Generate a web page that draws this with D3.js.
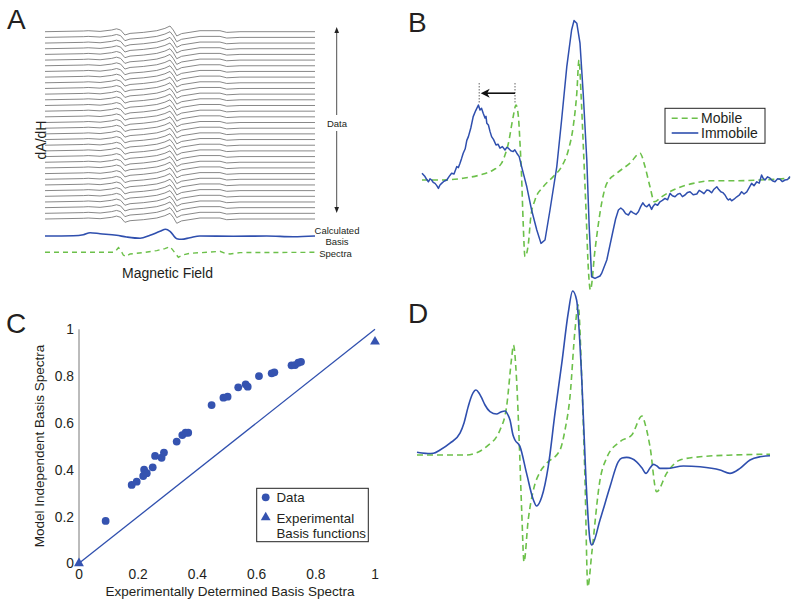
<!DOCTYPE html>
<html><head><meta charset="utf-8">
<script src="https://cdn.jsdelivr.net/npm/d3@7"></script>
<style>
body{margin:0;background:#fff}
svg{display:block}
text{font-family:"Liberation Sans",Arial,Helvetica,sans-serif;fill:#231f20}
</style>
</head><body><svg id="c" width="800" height="605"></svg>
<script>
// ---------------- DATA ----------------
// Panel A: field (0-100, arb.) , amplitude (arb.)
const dataTraceA = [[0,0],[14.2,0.7],[16,1],[20.4,0.3],[24.7,1.7],[26.5,2.9],[28,1.7],[29.6,-3.3],[31.5,-1.7],[36.4,-0.7],[41.4,1],[44.4,3.3],[46.3,5.7],[47.5,1.7],[48.8,-4.3],[50.6,-1.9],[57.4,1],[64.8,1],[67.3,-0.7],[72.2,0],[100,0]];
const dataTraceIdsA = d3.range(1, 35);   // 34 measured spectra
const immobileBasisA = [[0,0],[10.5,0.3],[14.2,1.3],[16.7,3.3],[20.4,2.3],[26.5,0.7],[30.2,-1],[35.2,-2.3],[38.9,0.7],[42.6,4.7],[44.7,6.7],[46.3,4.7],[48.8,-2.7],[50.6,-3.3],[53.7,-1.7],[57.4,0],[69.8,-0.3],[82.1,0],[92,-0.7],[100,0]];
const mobileBasisA = [[0,0],[25.3,0],[26.3,1.7],[27.2,4.7],[28,2.3],[29,-2.7],[30,-4.3],[31.5,-1.7],[36.4,-0.3],[41.4,1.7],[44.4,3.7],[46.3,5.7],[47.5,1.7],[49.4,-5],[51,-2.7],[53.7,-1],[59.9,0],[64.8,1],[66.7,-1],[68.5,-1.7],[72.2,-0.3],[100,0]];

// Panel B: field (G), amplitude (arb.)
const immobileB = [[0,3.4],[0.4,2.5],[0.75,1.7],[1.1,0.5],[1.6,-0.9],[2,0.6],[2.4,0],[2.8,-1.2],[3.25,-1.7],[3.7,-2.8],[4.1,-4.2],[4.5,-2.5],[4.9,-1.7],[5.5,-0.6],[6.2,0],[6.8,1.8],[7.4,3.4],[8,3],[8.7,6.7],[9.1,6.2],[9.5,8.4],[9.9,10.8],[10.3,13.4],[10.8,15.6],[11.2,19.8],[11.6,21.7],[12.2,26],[12.8,31.7],[13.4,34.6],[14.1,37.5],[14.5,35],[14.9,35.8],[15.3,33.4],[15.75,31],[16,31.8],[16.2,28.4],[16.6,27.5],[17,24.3],[17.4,21.7],[17.9,20.2],[18.5,17.5],[19,17.9],[19.5,15.9],[20.1,16.7],[20.75,15],[21.2,16.3],[21.6,15.9],[22.2,14.6],[22.8,14.2],[23.2,15.1],[23.7,13.4],[24.3,11.7],[24.9,6.7],[26.2,-3.4],[27.4,-15],[28.7,-25],[29.75,-31.7],[30.75,-30],[32,-15],[33.7,6.7],[34.9,30],[36.2,56.7],[37.4,75],[38,79.7],[38.7,78.4],[39.5,68.4],[40.3,43.4],[41.2,10],[41.8,-23.4],[42.4,-48.4],[43.25,-49.2],[44.5,-48],[44.9,-46.7],[46.2,-40],[47.8,-25],[48.4,-19.5],[49.1,-15],[49.7,-14],[50.3,-15],[50.9,-16.8],[51.6,-17.5],[52.2,-15.6],[52.8,-16.4],[53.5,-17.2],[54.1,-15.9],[54.7,-13.2],[55.2,-11.4],[55.7,-12.8],[56.2,-13.4],[56.8,-12.2],[57.4,-14.7],[57.8,-13.1],[58.25,-12],[58.9,-12.6],[59.5,-10.9],[60.1,-10.2],[60.75,-9.2],[61.4,-9.9],[62,-6.7],[62.6,-7.9],[63.25,-8.4],[63.9,-7.1],[64.5,-6.7],[65.1,-8.3],[65.75,-7.5],[66.4,-6.2],[67,-5.9],[67.8,-7.4],[68.7,-7],[69.3,-5.2],[69.9,-5.9],[70.5,-6.8],[71.2,-5],[71.8,-5.3],[72.4,-6.4],[73,-4.6],[73.7,-3.4],[74.2,-4.8],[74.7,-5.9],[75.2,-6.3],[75.75,-7.5],[76.2,-9.1],[76.6,-10],[77,-9.4],[77.4,-10.4],[78,-9.6],[78.7,-8.4],[79.3,-7.6],[79.9,-5.9],[80.5,-7],[81.2,-5.9],[81.8,-3.8],[82.4,-1.7],[83,-2.9],[83.7,-0.9],[84.3,-1.6],[84.9,2.5],[85.3,0.8],[85.75,0],[86.4,1.6],[87,0.9],[87.6,-0.4],[88.25,-0.9],[88.9,0.6],[89.5,0.4],[90.1,-0.8],[90.75,0],[91.4,0.3],[92,1.7]];
const mobileB = [[0,0],[5.3,0],[10.3,0.9],[14.5,2.5],[17.8,5],[19.9,8.4],[20.75,12.5],[21.6,18.4],[22.8,31.7],[23.5,37.5],[24.1,31.7],[24.5,18.4],[24.9,1.7],[25.3,-21.7],[25.75,-38.4],[26.6,-31.7],[27.2,-18.4],[28.25,-10],[30.3,-3.4],[32.8,1.7],[34.9,6.7],[36.6,15],[37.8,26.7],[38.7,43.4],[39.25,60],[39.75,43.4],[40.3,18.4],[41,-15],[41.6,-45],[42.1,-55],[43.25,-35],[44.9,-11.7],[46.2,-1.7],[48.7,3.4],[52,8.4],[54.5,13.4],[55.75,6.7],[57,-3.4],[58.1,-10.9],[59.9,-8.4],[62.8,-5],[67.8,-1.7],[72,-0.4],[77.8,-0.4],[84.5,0],[92,0.9]];
const peakShiftB = [23.25, 14.3];   // mobile peak -> immobile peak (G)

// Panel D: field (G), amplitude (arb.)
const immobileD = [[0,1.4],[1.25,1],[2.75,0.75],[4.1,0.9],[5.75,2.5],[8.25,5.9],[10.75,10.9],[11.75,16],[12.8,24.2],[13.75,30],[14.75,32.5],[15.5,31],[16.2,28.4],[17,25],[18.25,21.7],[19.9,20.5],[21,21.5],[22,22],[22.75,20],[23.25,17.5],[24,10],[24.5,7.5],[25.75,4.2],[27.4,-9.2],[29.1,-22.5],[29.9,-25.5],[31.2,-20.9],[32.8,-5.9],[34.5,20.9],[36.2,45.9],[37.8,70.9],[38.9,82],[39.9,77.5],[41.2,37.5],[42.25,-12.5],[43.25,-42.5],[43.7,-45],[45.75,-32.5],[48.25,-15.9],[50.3,-3.4],[51.25,-1.5],[52.4,-1.2],[54.9,-3.4],[56.25,-6.5],[57.25,-9.2],[58.25,-6.5],[59.1,-4.7],[60,-5.5],[60.75,-6.7],[62.4,-6.7],[66.6,-5.5],[70.75,-5.9],[75.75,-7.5],[78.25,-9.2],[80.75,-6.7],[83.25,-2.5],[85.75,-0.9],[88.25,-0.4]];
const mobileD = [[0,0],[12.4,0],[14.75,1],[17.4,4.2],[20.75,12.5],[22.4,24.2],[23.7,49.2],[24.1,55],[24.9,37.5],[25.6,4.2],[26.2,-29.2],[26.75,-53.4],[27.8,-32.5],[29.1,-17.5],[30.75,-8.5],[32.4,-4.2],[35.75,2.5],[37,12.5],[38.25,29.2],[39.5,62.5],[40.3,75],[41.2,37.5],[42,-12.5],[42.7,-65.9],[43.7,-49],[45.75,-12.5],[47.4,-1.5],[50.75,6.7],[53.7,10],[56.25,19.5],[57.1,15],[58.25,4.2],[59.9,-18.4],[62.4,-9.2],[65.75,-2.5],[70.75,-0.9],[79.1,0],[88.25,0.4]];

// Panel C
const expBasis = [0.09,0.178,0.195,0.217,0.22,0.229,0.249,0.257,0.279,0.287,0.33,0.349,0.36,0.369,0.448,0.488,0.502,0.538,0.563,0.57,0.608,0.651,0.66,0.718,0.73,0.741,0.75];
const modelBasis = [0.181,0.335,0.349,0.373,0.40,0.385,0.41,0.459,0.451,0.473,0.52,0.548,0.558,0.558,0.676,0.708,0.712,0.752,0.765,0.755,0.80,0.812,0.816,0.846,0.847,0.857,0.861];
const expFunctionsX = [0, 1];
const expFunctionsY = [0, 0.947];
const ticksC = [0, 0.2, 0.4, 0.6, 0.8, 1];

// ---------------- DRAW ----------------
const BLUE = "#2f4fae", GREEN = "#6cc04a", GRAY = "#7a7a7a";
const svg = d3.select("#c");
svg.append("rect").attr("width",800).attr("height",605).attr("fill","#fff");

function panelLabel(t, x, y){
  svg.append("text").attr("x",x).attr("y",y).attr("font-size",28).text(t);
}
panelLabel("A", 7, 29); panelLabel("B", 408, 32); panelLabel("C", 6, 333); panelLabel("D", 408, 323);

// ---- Panel A ----
const xA = d3.scaleLinear([0,100],[45,315]);
const rowA = d3.scaleLinear([1,34],[31.7,219]);
const ampA = d3.scaleLinear([-10,10],[10,-10]);
const gA = svg.append("g");
gA.selectAll("path.trace").data(dataTraceIdsA).join("path")
  .attr("fill","none").attr("stroke",GRAY).attr("stroke-width",0.9)
  .attr("d", id => d3.line().x(d=>xA(d[0])).y(d=>rowA(id)+ampA(d[1]))(dataTraceA));
gA.append("path").attr("fill","none").attr("stroke",BLUE).attr("stroke-width",1.6)
  .attr("d", d3.line().curve(d3.curveMonotoneX).x(d=>xA(d[0])).y(d=>236+ampA(d[1]))(immobileBasisA));
gA.append("path").attr("fill","none").attr("stroke",GREEN).attr("stroke-width",1.4).attr("stroke-dasharray","5,4")
  .attr("d", d3.line().x(d=>xA(d[0])).y(d=>252.3+ampA(d[1]))(mobileBasisA));
// double arrow
gA.append("line").attr("x1",336.7).attr("x2",336.7).attr("y1",31).attr("y2",115).attr("stroke","#222").attr("stroke-width",0.8);
gA.append("line").attr("x1",336.7).attr("x2",336.7).attr("y1",131).attr("y2",209).attr("stroke","#222").attr("stroke-width",0.8);
gA.append("path").attr("d","M336.7,27 L334.4,33 L339,33 Z").attr("fill","#222");
gA.append("path").attr("d","M336.7,213 L334.4,207 L339,207 Z").attr("fill","#222");
gA.append("text").attr("x",337).attr("y",126.5).attr("text-anchor","middle").attr("font-size",9.5).text("Data");
gA.append("text").attr("x",337).attr("y",233.5).attr("text-anchor","middle").attr("font-size",9.5).text("Calculated");
gA.append("text").attr("x",337).attr("y",245).attr("text-anchor","middle").attr("font-size",9.5).text("Basis");
gA.append("text").attr("x",335.5).attr("y",256.5).attr("text-anchor","middle").attr("font-size",9.5).text("Spectra");
gA.append("text").attr("x",167.5).attr("y",278).attr("text-anchor","middle").attr("font-size",14).text("Magnetic Field");
gA.append("text").attr("transform","translate(46,140) rotate(-90)").attr("text-anchor","middle").attr("font-size",14).text("dA/dH");

// ---- Panel B ----
const xB = d3.scaleLinear([0,92],[422,790]);
const yB = d3.scaleLinear([-64,80],[308,20]);
const lineB = d3.line().x(d=>xB(d[0])).y(d=>yB(d[1]));
const lineBs = d3.line().curve(d3.curveMonotoneX).x(d=>xB(d[0])).y(d=>yB(d[1]));
svg.append("path").attr("fill","none").attr("stroke",GREEN).attr("stroke-width",1.6).attr("stroke-dasharray","6,4")
  .attr("d", lineBs(mobileB));
svg.append("path").attr("fill","none").attr("stroke",BLUE).attr("stroke-width",1.5).attr("stroke-linejoin","round")
  .attr("d", lineB(immobileB));
peakShiftB.forEach(g=>{
  svg.append("line").attr("x1",xB(g)).attr("x2",xB(g)).attr("y1",yB(48.5)).attr("y2",yB(38.5))
    .attr("stroke","#666").attr("stroke-width",1).attr("stroke-dasharray","1.5,1.5");
});
svg.append("line").attr("x1",xB(peakShiftB[0])).attr("x2",xB(peakShiftB[1])+6).attr("y1",yB(43.4)).attr("y2",yB(43.4))
  .attr("stroke","#111").attr("stroke-width",1.6);
svg.append("path").attr("d",`M${xB(peakShiftB[1])+1.5},${yB(43.4)} l9,-4.5 l-2.5,4.5 l2.5,4.5 Z`).attr("fill","#111");
// legend B
const lgB = svg.append("g");
lgB.append("rect").attr("x",665).attr("y",108.3).attr("width",100).attr("height",35).attr("fill","#fff").attr("stroke","#222").attr("stroke-width",1);
lgB.append("line").attr("x1",671.7).attr("x2",698.3).attr("y1",118.3).attr("y2",118.3).attr("stroke",GREEN).attr("stroke-width",1.6).attr("stroke-dasharray","6,4");
lgB.append("line").attr("x1",671.7).attr("x2",698.3).attr("y1",133).attr("y2",133).attr("stroke",BLUE).attr("stroke-width",1.6);
lgB.append("text").attr("x",701).attr("y",123.3).attr("font-size",14).text("Mobile");
lgB.append("text").attr("x",701).attr("y",138).attr("font-size",14).text("Immobile");

// ---- Panel D ----
const xD = d3.scaleLinear([0,88.25],[417,770]);
const yD = d3.scaleLinear([-64,80],[583,295]);
const lineD = d3.line().curve(d3.curveMonotoneX).x(d=>xD(d[0])).y(d=>yD(d[1]));
svg.append("path").attr("fill","none").attr("stroke",GREEN).attr("stroke-width",1.6).attr("stroke-dasharray","6,4")
  .attr("d", lineD(mobileD));
svg.append("path").attr("fill","none").attr("stroke",BLUE).attr("stroke-width",1.6).attr("stroke-linejoin","round")
  .attr("d", lineD(immobileD));

// ---- Panel C ----
const xC = d3.scaleLinear([0,1],[79,375]);
const yC = d3.scaleLinear([0,1],[563.3,329.3]);
const gC = svg.append("g");
gC.append("line").attr("x1",xC(0)).attr("x2",xC(0)).attr("y1",yC(1)).attr("y2",yC(0)).attr("stroke","#555").attr("stroke-width",0.8);
gC.selectAll("text.yt").data(ticksC).join("text").attr("x",74).attr("y",d=>yC(d)+5).attr("text-anchor","end").attr("font-size",13.8)
  .text(d=>d3.format("~g")(d));
gC.selectAll("text.xt").data(ticksC).join("text").attr("x",d=>xC(d)).attr("y",579).attr("text-anchor","middle").attr("font-size",13.8)
  .text(d=>d3.format("~g")(d));
gC.append("line").attr("x1",xC(0)).attr("y1",yC(0)).attr("x2",xC(1)).attr("y2",yC(1)).attr("stroke",BLUE).attr("stroke-width",1.3);
gC.selectAll("circle.pt").data(expBasis).join("circle").attr("cx",d=>xC(d)).attr("cy",(d,i)=>yC(modelBasis[i])).attr("r",3.9).attr("fill","#3553b0");
const tri = d3.symbol().type(d3.symbolTriangle).size(42);
gC.selectAll("path.tri").data(expFunctionsX).join("path").attr("transform",(d,i)=>`translate(${xC(d)},${yC(expFunctionsY[i])})`).attr("d",tri).attr("fill","#3553b0");
gC.append("text").attr("x",230).attr("y",596).attr("text-anchor","middle").attr("font-size",13.5).text("Experimentally Determined Basis Spectra");
gC.append("text").attr("transform","translate(44,446) rotate(-90)").attr("text-anchor","middle").attr("font-size",13.5).text("Model Independent Basis Spectra");
// legend C
gC.append("rect").attr("x",256.7).attr("y",488.3).attr("width",111.6).attr("height",53.4).attr("fill","#fff").attr("stroke","#222").attr("stroke-width",1);
gC.append("circle").attr("cx",265.7).attr("cy",497.3).attr("r",3.9).attr("fill","#3553b0");
gC.append("path").attr("transform","translate(265.7,517.5)").attr("d",tri).attr("fill","#3553b0");
gC.append("text").attr("x",276.5).attr("y",502.3).attr("font-size",13.3).text("Data");
gC.append("text").attr("x",276.5).attr("y",523).attr("font-size",13.3).text("Experimental");
gC.append("text").attr("x",276.5).attr("y",538).attr("font-size",13.3).text("Basis functions");
</script></body></html>
